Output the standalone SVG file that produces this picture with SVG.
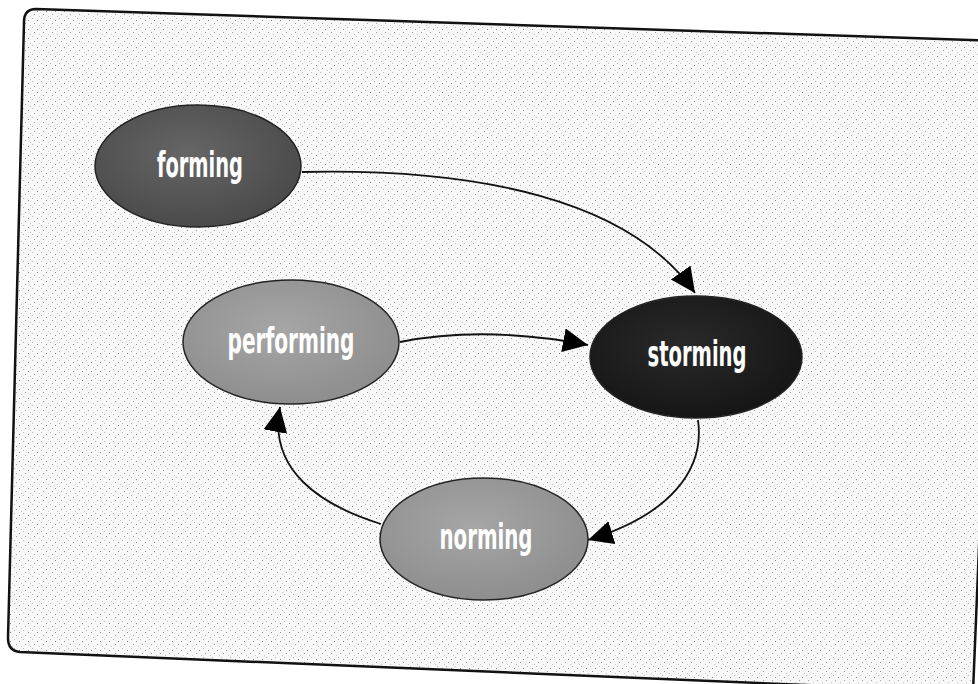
<svg xmlns="http://www.w3.org/2000/svg" width="978" height="684" viewBox="0 0 978 684">
  <defs>
    <pattern id="stipple" width="9" height="9" patternUnits="userSpaceOnUse">
      <rect width="9" height="9" fill="#f8f8f8"/>
      <rect x="1" y="2" width="1" height="1" fill="#8a8a8a"/>
      <rect x="5" y="0" width="1" height="1" fill="#b8b8b8"/>
      <rect x="7" y="5" width="1" height="1" fill="#a0a0a0"/>
      <rect x="3" y="7" width="1" height="1" fill="#c4c4c4"/>
    </pattern>
    <radialGradient id="gDark" cx="45%" cy="40%" r="65%">
      <stop offset="0" stop-color="#666"/>
      <stop offset="1" stop-color="#484848"/>
    </radialGradient>
    <radialGradient id="gLight" cx="45%" cy="40%" r="65%">
      <stop offset="0" stop-color="#a6a6a6"/>
      <stop offset="1" stop-color="#8c8c8c"/>
    </radialGradient>
    <radialGradient id="gBlack" cx="45%" cy="40%" r="65%">
      <stop offset="0" stop-color="#2a2a2a"/>
      <stop offset="1" stop-color="#141414"/>
    </radialGradient>
    <marker id="arrow" markerUnits="userSpaceOnUse" markerWidth="28" markerHeight="28" refX="25" refY="12" orient="auto">
      <path d="M0,0 L25,12 L0,24 Z" fill="#000"/>
    </marker>
    <style>
      .node { stroke: #222; stroke-width: 1.5; }
      .label { font-family: "DejaVu Sans Condensed", "Liberation Sans", sans-serif; font-weight: bold; font-size: 35px; fill: #ffffff; text-anchor: middle; }
      .edge { fill: none; stroke: #111; stroke-width: 1.8; marker-end: url(#arrow); }
    </style>
  </defs>

  <!-- tilted rounded frame -->
  <path id="frame" d="M36,9 L1000,41 L973,692 L20,652 Q8,651 8,638 L24,22 Q24,9 36,9 Z" fill="url(#stipple)" stroke="#111" stroke-width="2.5"/>

  <g id="connectors">
    <path class="edge" d="M302,172 C480,168 630,200 695,293"/>
    <path class="edge" d="M400,342 C460,330 520,332 588,345"/>
    <path class="edge" d="M698,420 C705,470 670,515 588,540"/>
    <path class="edge" d="M381,524 C320,505 268,470 280,407"/>
  </g>

  <g id="forming">
    <ellipse class="node" cx="198" cy="166" rx="103" ry="61" fill="url(#gDark)"/>
    <text class="label" x="200" y="177" textLength="86" lengthAdjust="spacingAndGlyphs">forming</text>
  </g>

  <g id="performing">
    <ellipse class="node" cx="291" cy="342" rx="108" ry="62" fill="url(#gLight)"/>
    <text class="label" x="291" y="353" textLength="127" lengthAdjust="spacingAndGlyphs">performing</text>
  </g>

  <g id="storming">
    <ellipse class="node" cx="696" cy="357" rx="106" ry="61" fill="url(#gBlack)"/>
    <text class="label" x="697" y="366" textLength="99" lengthAdjust="spacingAndGlyphs">storming</text>
  </g>

  <g id="norming">
    <ellipse class="node" cx="484" cy="539" rx="104" ry="61" fill="url(#gLight)"/>
    <text class="label" x="486" y="549" textLength="93" lengthAdjust="spacingAndGlyphs">norming</text>
  </g>
</svg>
